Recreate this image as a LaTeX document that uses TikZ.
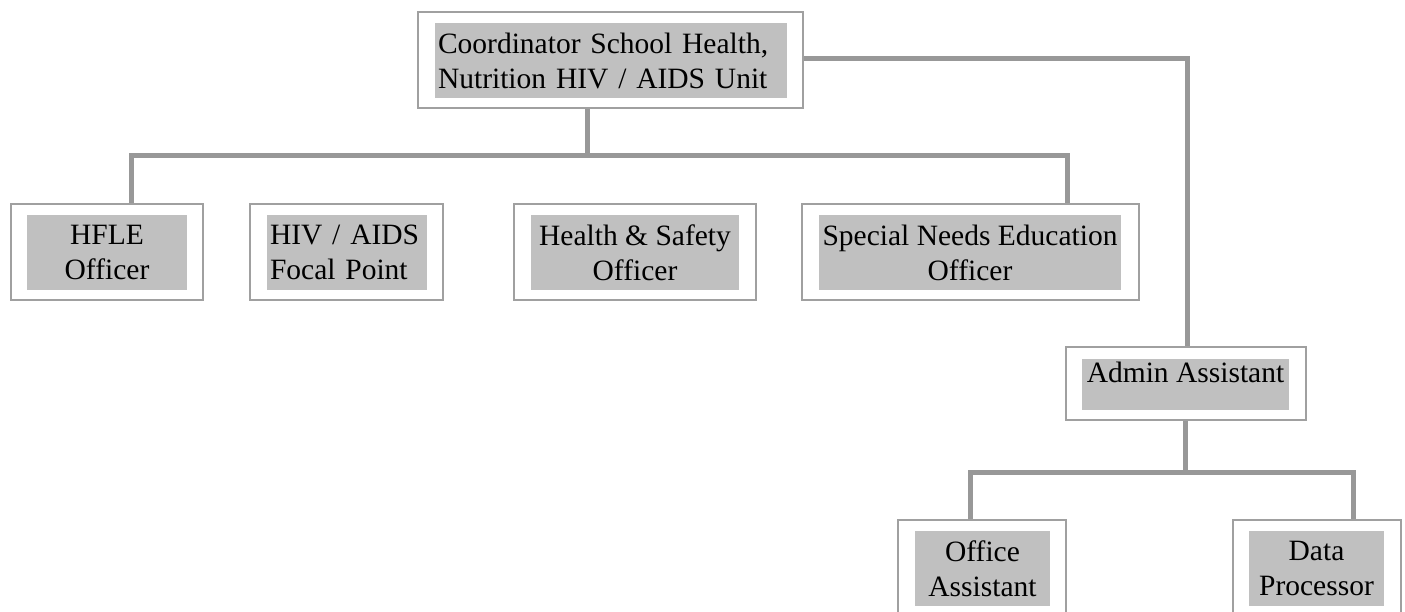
\documentclass[tikz,border=0pt]{standalone}
\usepackage{fontspec}
\setmainfont{Liberation Serif}
\definecolor{linegray}{RGB}{152,152,152}
\definecolor{boxgray}{RGB}{160,160,160}
\definecolor{fillgray}{RGB}{192,192,192}
\begin{document}
\begin{tikzpicture}[x=1pt,y=-1pt,
  outerbox/.style={draw=boxgray,line width=2pt,fill=white,minimum height=96pt,inner sep=0pt},
  graybox/.style={fill=fillgray,minimum height=75pt,inner sep=0pt,font=\fontsize{29.5}{35}\selectfont},
  conn/.style={draw=linegray,line width=5pt}]
\useasboundingbox (0,0) rectangle (1405,612);
% connectors
\coordinate (hl) at (131,156);
\coordinate (hr) at (1067,156);
\coordinate (hm) at (587,156);
\coordinate (rc) at (1187,59);
\coordinate (al) at (970,472);
\coordinate (ar) at (1353,472);
\coordinate (am) at (1185,472);
% boxes
\node[outerbox,minimum width=385pt] (topo) at (610.5,60) {};
\node[graybox,minimum width=352pt,text width=346pt,align=left] (top) at (611,60.5) {Coordinator School Health,\\Nutrition HIV / AIDS Unit};
\node[outerbox,minimum width=192pt] (hfleo) at (107,252) {};
\node[graybox,minimum width=160pt,align=center] (hfle) at (107,252.5) {HFLE\\Officer};
\node[outerbox,minimum width=193pt] (hivo) at (346.5,252) {};
\node[graybox,minimum width=160pt,text width=154pt,align=left] (hiv) at (347,252.5) {HIV / AIDS\\Focal Point};
\node[outerbox,minimum width=242pt] (hso) at (635,252) {};
\node[graybox,minimum width=208pt,align=center] (hs) at (635,252.5) {Health \& Safety\\Officer};
\node[outerbox,minimum width=337pt] (sneo) at (970.5,252) {};
\node[graybox,minimum width=302pt,align=center] (sne) at (970,252.5) {Special Needs Education\\Officer};
\node[outerbox,minimum width=240pt,minimum height=73pt] (admo) at (1186,383.5) {};
\node[graybox,minimum width=207pt,minimum height=51pt,anchor=north,text depth=24pt] (adm) at (1185.5,359) {Admin Assistant};
\node[outerbox,minimum width=168pt] (offo) at (982,568) {};
\node[graybox,minimum width=135pt,align=center] (off) at (982.5,568.5) {Office\\Assistant};
\node[outerbox,minimum width=168pt] (dato) at (1317,568) {};
\node[graybox,minimum width=135pt,align=center] (dat) at (1316.5,568.5) {Data\\Processor};
% lines
\draw[conn] (topo.south -| hm) -- (hm);
\draw[conn] (hfleo.north -| hl) -- (hl) -- (hr) -- (sneo.north -| hr);
\draw[conn] (topo.east |- rc) -- (rc) -- (admo.north -| rc);
\draw[conn] (admo.south -| am) -- (am);
\draw[conn] (offo.north -| al) -- (al) -- (ar) -- (dato.north -| ar);
\end{tikzpicture}
\end{document}
